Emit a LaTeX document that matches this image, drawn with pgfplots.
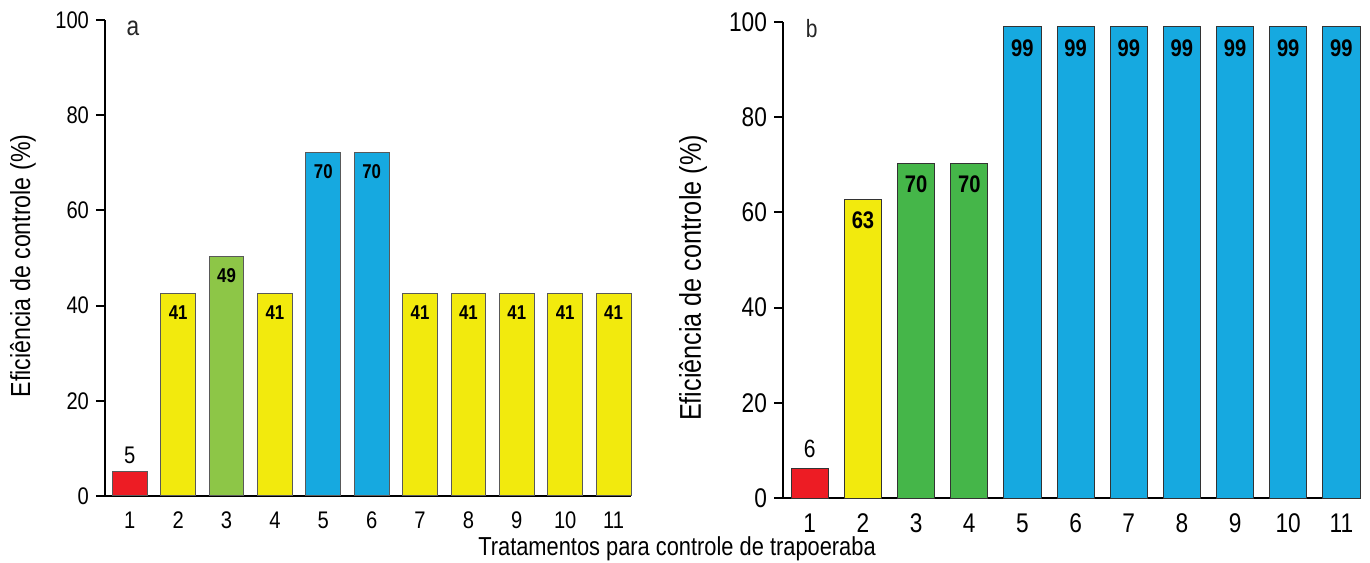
\documentclass[border=0pt]{standalone}
\usepackage{pgfplots}
\pgfplotsset{compat=1.18}
\usepackage{fontspec}
\setmainfont{Liberation Sans}[FakeStretch=0.84]
\definecolor{cRed}{RGB}{237,28,36}
\definecolor{cYel}{RGB}{242,234,13}
\definecolor{cGrnA}{RGB}{141,198,71}
\definecolor{cGrnB}{RGB}{69,182,73}
\definecolor{cBlue}{RGB}{22,169,224}
\pgfplotsset{
  panel/.style={
    scale only axis, anchor=south west,
    ymin=0, ymax=100,
    axis x line*=bottom, axis y line*=left,
    axis line style={line width=1pt, black},
    xtick={1,...,11}, ytick={0,20,...,100},
    xtick style={draw=none},
    ytick style={line width=1pt, black},
    tick align=outside, major tick length=4.5pt,
    /pgf/number format/assume math mode=true,
    ybar, bar shift=0pt, clip=false,
  },
  barA/.style={draw=black!65, line width=0.5pt, point meta=explicit symbolic, nodes near coords,
    every node near coord/.append style={anchor=center, yshift=-9.5pt, font=\bfseries\fontsize{10}{11}\selectfont, text=black}},
  barB/.style={draw=black!80, line width=0.5pt, point meta=explicit symbolic, nodes near coords,
    every node near coord/.append style={anchor=center, yshift=-10.5pt, font=\bfseries\fontsize{12}{13}\selectfont, text=black}},
}
\begin{document}
\begin{tikzpicture}
% ---- panel a ----
\begin{axis}[panel, at={(52.5pt,33pt)}, width=263pt, height=238pt,
  xmin=0.487, xmax=11.36, bar width=0.72,
  tick label style={font=\fontsize{12}{13}\selectfont}]
\addplot[fill=cRed, draw=black!65, line width=0.5pt, point meta=explicit symbolic, nodes near coords,
  every node near coord/.append style={anchor=center, yshift=8pt, font=\fontsize{12}{13}\selectfont}]
  table[x=x, y=y, meta=l] {
x y l
1 5.2 5
};
\addplot[fill=cYel, barA] table[x=x, y=y, meta=l] {
x y l
2 42.5 41
4 42.5 41
7 42.5 41
8 42.5 41
9 42.5 41
10 42.5 41
11 42.5 41
};
\addplot[fill=cGrnA, barA] table[x=x, y=y, meta=l] {
x y l
3 50.3 49
};
\addplot[fill=cBlue, barA] table[x=x, y=y, meta=l] {
x y l
5 72.2 70
6 72.2 70
};
\end{axis}
% ---- panel b ----
\begin{axis}[panel, at={(391.5pt,32pt)}, width=288.5pt, height=238pt,
  xmin=0.496, xmax=11.35, bar width=0.70,
  tick label style={font=\fontsize{13.5}{14}\selectfont}]
\addplot[fill=cRed, draw=black!80, line width=0.5pt, point meta=explicit symbolic, nodes near coords,
  every node near coord/.append style={anchor=center, yshift=9.5pt, font=\fontsize{12.5}{13}\selectfont}]
  table[x=x, y=y, meta=l] {
x y l
1 6.3 6
};
\addplot[fill=cYel, barB] table[x=x, y=y, meta=l] {
x y l
2 62.7 63
};
\addplot[fill=cGrnB, barB] table[x=x, y=y, meta=l] {
x y l
3 70.3 70
4 70.3 70
};
\addplot[fill=cBlue, barB] table[x=x, y=y, meta=l] {
x y l
5 99.0 99
6 99.0 99
7 99.0 99
8 99.0 99
9 99.0 99
10 99.0 99
11 99.0 99
};
\end{axis}
% ---- labels ----
\node[rotate=90, font=\fontsize{13.8}{15}\selectfont] at (11.5pt,148pt) {Eficiência de controle (\%)};
\node[rotate=90, font=\fontsize{15}{16}\selectfont] at (346.5pt,142pt) {Eficiência de controle (\%)};
\node[anchor=base, inner sep=0pt, font=\fontsize{13}{14}\selectfont] at (338.5pt,3.2pt) {Tratamentos para controle de trapoeraba};
\node[font=\fontsize{13.5}{14}\selectfont, text=black!85] at (66.5pt,267pt) {a};
\node[font=\fontsize{12.5}{14}\selectfont, text=black!85] at (405.8pt,266.5pt) {b};
\pgfresetboundingbox
\useasboundingbox (0,0) rectangle (685pt,281pt);
\end{tikzpicture}
\end{document}
